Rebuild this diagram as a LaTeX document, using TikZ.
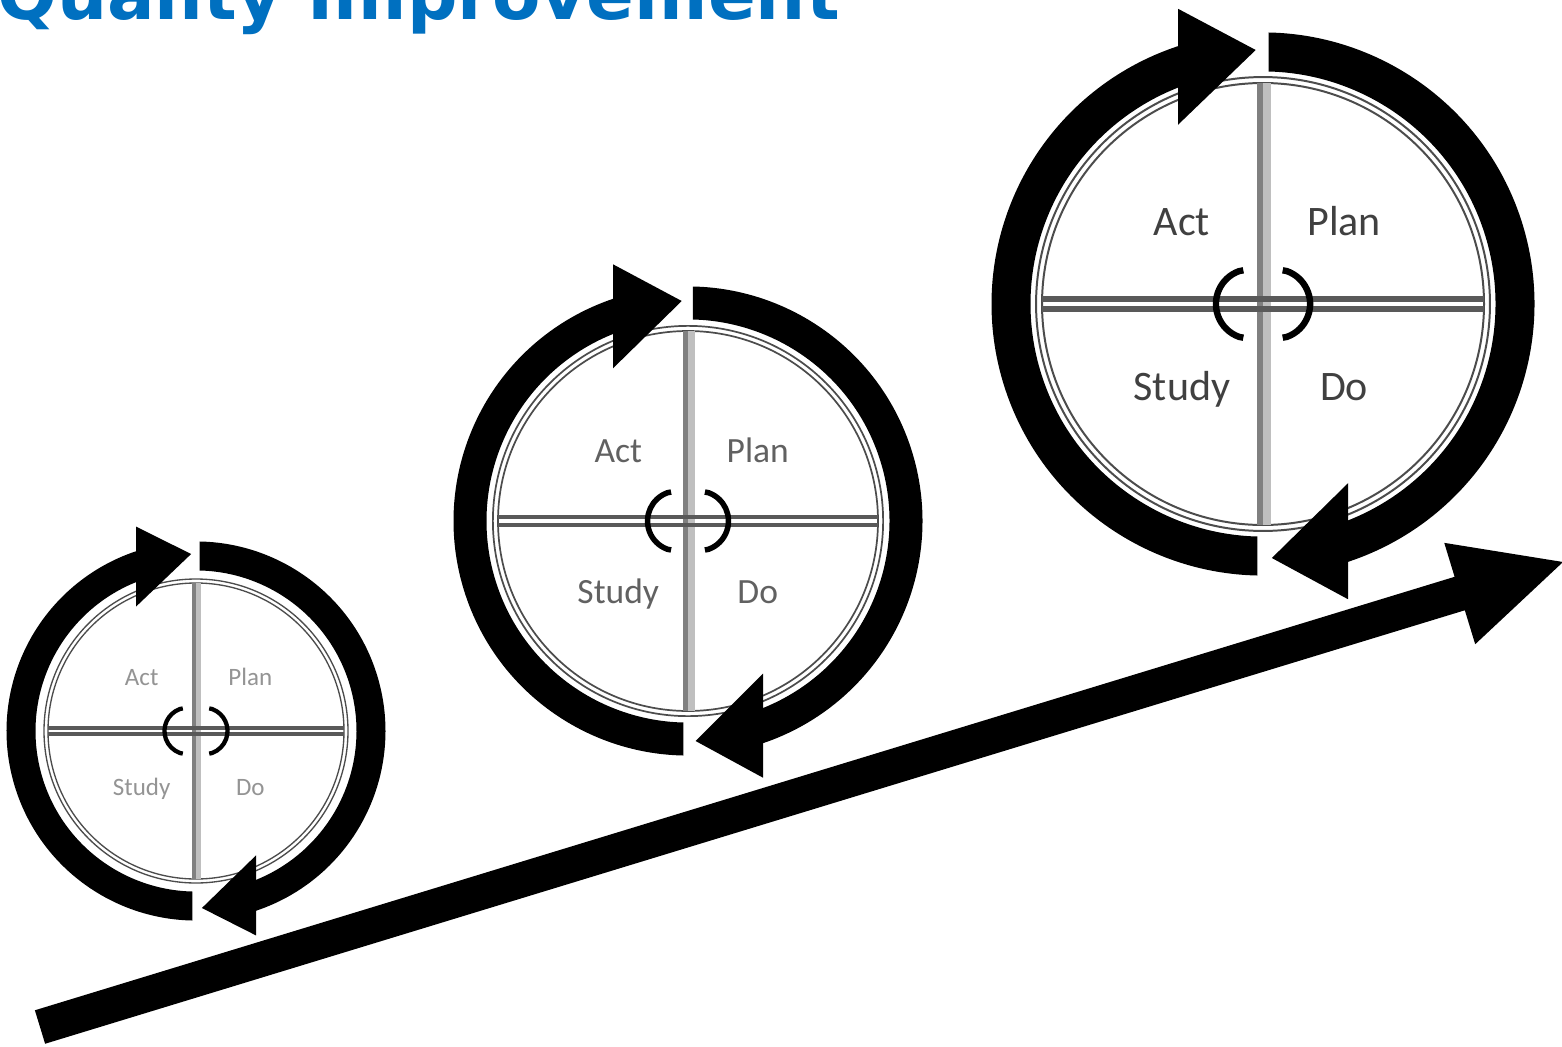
\documentclass[tikz,border=0pt]{standalone}
\usepackage{fontspec}
\setmainfont{Carlito}
\newfontfamily\titlefont{DejaVu Sans}
\usetikzlibrary{calc}
\definecolor{titleblue}{HTML}{0070C0}

% #1 name, #2 cx, #3 cy, #4 inner radius R, #5 ring mid radius, #6 ring width,
% #7 head back offset, #8 head half width, #9 text style
\newcommand\pdsacycle[9]{%
\begin{scope}[shift={(#2,#3)}]
  \pgfmathsetmacro\phc{100*sqrt((#5/100)^2-(#7/100)^2)}
  \pgfmathsetmacro\pRo{1.027*#4}
  \pgfmathsetmacro\plw{0.009*#4}
  \pgfmathsetmacro\pbx{0.055*#4-0.158*#4*cos(110)}
  \pgfmathsetmacro\pby{0.158*#4*sin(110)}
  \coordinate (#1) at (0,0);
  % inner double circle
  \draw[line width=\plw pt, black!70] (0,0) circle[radius=#4pt] (0,0) circle[radius=\pRo pt];
  % divider cross
  \fill[black!50] (-0.027*#4,-#4) rectangle (0,#4);
  \fill[black!25] (0,-#4) rectangle (0.036*#4,#4);
  \fill[black!65] (-#4,0.009*#4) rectangle (#4,0.034*#4);
  \fill[black!65] (-#4,-0.009*#4) rectangle (#4,-0.034*#4);
  % centre cycle symbol
  \draw[line width=0.029*#4pt, line join=round] (-\pbx+0.02*#4,\pby+0.004*#4) -- (-\pbx,\pby)
     arc[start angle=110, end angle=250, radius=0.158*#4pt] -- ++(0.02*#4,-0.004*#4);
  \draw[line width=0.029*#4pt, line join=round] (\pbx-0.02*#4,\pby+0.004*#4) -- (\pbx,\pby)
     arc[start angle=70, end angle=-70, radius=0.158*#4pt] -- ++(-0.02*#4,-0.004*#4);
  % labels
  \node[#9, anchor=base, inner sep=0] (#1-act) at (-0.367*#4,0.31*#4) {Act};
  \node[#9, anchor=base, inner sep=0] (#1-plan) at (0.367*#4,0.31*#4) {Plan};
  \node[#9, anchor=base, inner sep=0] (#1-study) at (-0.367*#4,-0.435*#4) {Study};
  \node[#9, anchor=base, inner sep=0] (#1-do) at (0.367*#4,-0.435*#4) {Do};
  % left arc (bottom -> left -> top)
  \begin{scope}
    \clip (-0.025*#4,-400) -- (-0.025*#4,0) -- (-#7,0) -- (-#7,400) -- (-400,400) -- (-400,-400) -- cycle;
    \draw[line width=#6pt] (285:#5pt) arc[start angle=285, end angle=95, radius=#5pt];
  \end{scope}
  \fill (-#7,\phc+#8) -- (-#7,\phc-#8) -- (-0.033*#4,#5+2) -- cycle;
  % right arc (top -> right -> bottom)
  \begin{scope}
    \clip (0.025*#4,400) -- (0.025*#4,0) -- (#7,0) -- (#7,-400) -- (400,-400) -- (400,400) -- cycle;
    \draw[line width=#6pt] (105:#5pt) arc[start angle=105, end angle=-85, radius=#5pt];
  \end{scope}
  \fill (#7,-\phc+#8) -- (#7,-\phc-#8) -- (0.04*#4,-#5-2) -- cycle;
\end{scope}}

\begin{document}
\begin{tikzpicture}[x=1pt,y=1pt]
\useasboundingbox (0,0) rectangle (1562,-1046);
\fill[white] (0,0) rectangle (1562,-1046);

% title
\node[anchor=base west, inner sep=0, text=titleblue,
      font=\titlefont\bfseries\fontsize{70.5}{70.5}\selectfont] (title) at (-3,-20) {Quality Improvement};

% rising trend arrow
\coordinate (trendtail) at (40,-1027);
\coordinate (trendtip) at (1563,-562);
\coordinate (trendbase) at ($(trendtip)!108pt!(trendtail)$);
\fill ($(trendtail)!17.5pt!90:(trendtip)$) -- ($(trendbase)!17.5pt!90:(trendtip)$)
   -- ($(trendbase)!53pt!90:(trendtip)$) -- (trendtip)
   -- ($(trendbase)!53pt!-90:(trendtip)$) -- ($(trendbase)!17.5pt!-90:(trendtip)$)
   -- ($(trendtail)!17.5pt!-90:(trendtip)$) -- cycle;

% three PDSA cycles
\pdsacycle{small}{196}{-731}{148}{175}{29}{60}{40}{font=\fontsize{25}{25}\selectfont, text=black!42}
\pdsacycle{middle}{688}{-521}{190}{218}{33}{75}{52}{font=\fontsize{35.5}{35.5}\selectfont, text=black!62}
\pdsacycle{large}{1263}{-304}{221}{252}{39}{85}{58}{font=\fontsize{42}{42}\selectfont, text=black!75}
\end{tikzpicture}
\end{document}
